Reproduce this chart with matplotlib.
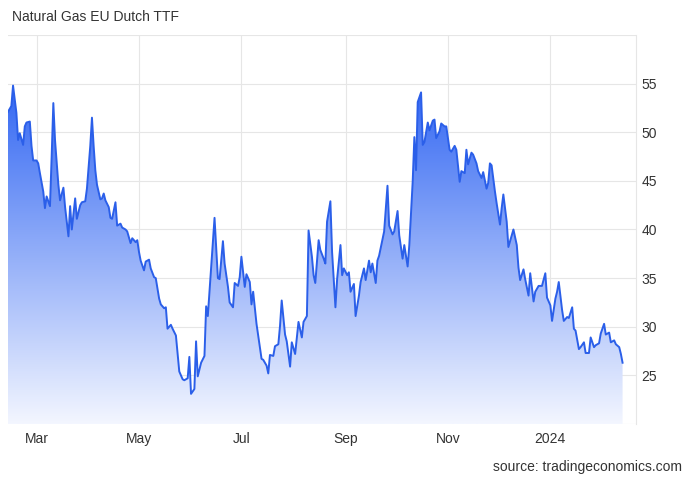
import numpy as np
import pandas as pd
import matplotlib
matplotlib.use('Agg')
import matplotlib.pyplot as plt
import matplotlib.dates as mdates
from matplotlib.colors import LinearSegmentedColormap

plt.rcParams['font.family'] = ['Liberation Sans', 'DejaVu Sans']

# TTF price, EUR/MWh
dates = [
    '2023-02-12', '2023-02-14', '2023-02-15', '2023-02-17', '2023-02-18', '2023-02-19', '2023-02-21',
    '2023-02-22', '2023-02-23', '2023-02-25', '2023-02-26', '2023-02-27', '2023-03-01', '2023-03-02',
    '2023-03-03', '2023-03-05', '2023-03-06', '2023-03-07', '2023-03-09', '2023-03-10', '2023-03-11',
    '2023-03-12', '2023-03-14', '2023-03-15', '2023-03-17', '2023-03-18', '2023-03-20', '2023-03-21',
    '2023-03-22', '2023-03-24', '2023-03-25', '2023-03-27', '2023-03-28', '2023-03-30', '2023-03-31',
    '2023-04-02', '2023-04-03', '2023-04-04', '2023-04-05', '2023-04-06', '2023-04-08', '2023-04-09',
    '2023-04-10', '2023-04-11', '2023-04-13', '2023-04-14', '2023-04-15', '2023-04-17', '2023-04-18',
    '2023-04-20', '2023-04-21', '2023-04-23', '2023-04-24', '2023-04-26', '2023-04-27', '2023-04-29',
    '2023-04-30', '2023-05-01', '2023-05-02', '2023-05-04', '2023-05-05', '2023-05-07', '2023-05-08',
    '2023-05-10', '2023-05-11', '2023-05-13', '2023-05-14', '2023-05-16', '2023-05-17', '2023-05-18',
    '2023-05-20', '2023-05-21', '2023-05-23', '2023-05-24', '2023-05-25', '2023-05-27', '2023-05-28',
    '2023-05-30', '2023-05-31', '2023-06-01', '2023-06-03', '2023-06-04', '2023-06-05', '2023-06-07',
    '2023-06-09', '2023-06-10', '2023-06-11', '2023-06-13', '2023-06-14', '2023-06-15', '2023-06-17',
    '2023-06-18', '2023-06-20', '2023-06-21', '2023-06-23', '2023-06-24', '2023-06-26', '2023-06-27',
    '2023-06-29', '2023-06-30', '2023-07-01', '2023-07-03', '2023-07-04', '2023-07-06', '2023-07-07',
    '2023-07-08', '2023-07-10', '2023-07-11', '2023-07-13', '2023-07-14', '2023-07-16', '2023-07-17',
    '2023-07-18', '2023-07-20', '2023-07-21', '2023-07-23', '2023-07-24', '2023-07-25', '2023-07-27',
    '2023-07-28', '2023-07-30', '2023-07-31', '2023-08-02', '2023-08-03', '2023-08-04', '2023-08-06',
    '2023-08-07', '2023-08-09', '2023-08-10', '2023-08-12', '2023-08-13', '2023-08-14', '2023-08-16',
    '2023-08-17', '2023-08-19', '2023-08-20', '2023-08-21', '2023-08-23', '2023-08-24', '2023-08-26',
    '2023-08-27', '2023-08-29', '2023-08-30', '2023-08-31', '2023-09-02', '2023-09-03', '2023-09-04',
    '2023-09-06', '2023-09-07', '2023-09-09', '2023-09-10', '2023-09-12', '2023-09-13', '2023-09-15',
    '2023-09-16', '2023-09-17', '2023-09-19', '2023-09-20', '2023-09-21', '2023-09-23', '2023-09-24',
    '2023-09-26', '2023-09-27', '2023-09-29', '2023-09-30', '2023-10-02', '2023-10-03', '2023-10-05',
    '2023-10-06', '2023-10-08', '2023-10-09', '2023-10-11', '2023-10-12', '2023-10-13', '2023-10-14',
    '2023-10-16', '2023-10-17', '2023-10-18', '2023-10-20', '2023-10-21', '2023-10-23', '2023-10-24',
    '2023-10-25', '2023-10-27', '2023-10-28', '2023-10-30', '2023-10-31', '2023-11-02', '2023-11-03',
    '2023-11-05', '2023-11-06', '2023-11-08', '2023-11-09', '2023-11-11', '2023-11-12', '2023-11-13',
    '2023-11-15', '2023-11-16', '2023-11-18', '2023-11-19', '2023-11-21', '2023-11-22', '2023-11-24',
    '2023-11-25', '2023-11-26', '2023-11-27', '2023-11-29', '2023-11-30', '2023-12-02', '2023-12-03',
    '2023-12-04', '2023-12-06', '2023-12-07', '2023-12-09', '2023-12-10', '2023-12-12', '2023-12-13',
    '2023-12-14', '2023-12-16', '2023-12-17', '2023-12-19', '2023-12-20', '2023-12-22', '2023-12-23',
    '2023-12-25', '2023-12-26', '2023-12-27', '2023-12-29', '2023-12-30', '2024-01-01', '2024-01-02',
    '2024-01-04', '2024-01-05', '2024-01-06', '2024-01-08', '2024-01-09', '2024-01-11', '2024-01-12',
    '2024-01-14', '2024-01-15', '2024-01-16', '2024-01-18', '2024-01-19', '2024-01-21', '2024-01-22',
    '2024-01-24', '2024-01-25', '2024-01-27', '2024-01-28', '2024-01-30', '2024-01-31', '2024-02-02',
    '2024-02-03', '2024-02-05', '2024-02-06', '2024-02-08', '2024-02-09', '2024-02-11', '2024-02-12',
    '2024-02-13',
]
prices = [
    52.1, 52.7, 54.8, 52.0, 49.2, 49.9, 48.7,
    50.6, 51.0, 51.1, 48.6, 47.1, 47.1, 46.8,
    45.8, 43.9, 42.2, 43.4, 42.4, 47.5, 53.0,
    49.2, 44.6, 43.0, 44.3, 42.3, 39.3, 42.4,
    40.0, 43.2, 41.1, 42.5, 42.8, 42.9, 44.2,
    48.6, 51.5, 48.6, 46.1, 44.6, 43.1, 43.2,
    43.7, 43.0, 42.3, 41.2, 41.1, 42.8, 40.4,
    40.6, 40.2, 40.0, 39.8, 38.6, 39.1, 38.7,
    38.9, 37.7, 36.8, 35.8, 36.7, 36.9, 36.0,
    35.1, 35.0, 32.9, 32.3, 31.9, 32.0, 29.8,
    30.2, 29.8, 29.1, 27.3, 25.4, 24.6, 24.5,
    24.7, 26.9, 23.1, 23.6, 28.5, 24.9, 26.3,
    27.0, 32.1, 31.1, 36.1, 38.7, 41.2, 35.0,
    34.9, 38.8, 36.5, 34.1, 32.5, 32.0, 34.5,
    34.2, 35.1, 37.2, 34.1, 35.4, 34.6, 32.3,
    33.6, 30.3, 29.1, 26.7, 26.6, 26.0, 25.2,
    27.1, 27.0, 28.0, 28.2, 30.1, 32.7, 29.2,
    28.5, 25.9, 28.4, 27.2, 28.9, 30.5, 28.9,
    30.5, 31.1, 39.9, 37.2, 35.3, 34.5, 38.9,
    37.9, 37.0, 36.5, 40.8, 42.9, 37.7, 32.0,
    34.9, 38.4, 35.3, 36.0, 35.3, 35.6, 33.6,
    34.4, 31.1, 33.2, 34.6, 36.0, 34.8, 36.8,
    35.6, 36.5, 34.5, 36.8, 37.3, 39.0, 39.8,
    44.5, 40.4, 39.5, 39.8, 41.9, 39.4, 37.0,
    38.4, 36.2, 38.4, 44.9, 49.5, 46.1, 53.1,
    54.1, 48.7, 49.0, 51.0, 50.2, 51.2, 51.3,
    49.4, 50.1, 50.9, 50.6, 50.6, 48.2, 48.0,
    48.6, 48.2, 44.9, 46.0, 45.8, 48.2, 46.7,
    47.9, 47.7, 46.8, 46.0, 45.3, 45.9, 44.2,
    44.8, 46.8, 46.6, 43.9, 42.7, 40.5, 42.2,
    43.6, 40.8, 38.2, 39.4, 40.0, 38.4, 36.1,
    34.8, 35.9, 34.9, 33.2, 35.5, 32.6, 33.6,
    34.2, 34.2, 34.2, 35.5, 33.0, 32.2, 30.6,
    32.9, 33.6, 34.6, 31.7, 30.6, 31.0, 30.9,
    32.0, 29.8, 29.6, 27.7, 27.9, 28.4, 27.3,
    27.3, 28.9, 27.9, 28.1, 28.3, 29.3, 30.3,
    29.2, 29.4, 28.4, 28.6, 28.2, 27.9, 27.2,
    26.3,
]

tick_dates = ['2023-03-01', '2023-05-01', '2023-07-01', '2023-09-01', '2023-11-01', '2024-01-01']
tick_labels = ['Mar', 'May', 'Jul', 'Sep', 'Nov', '2024']
y_ticks = [25, 30, 35, 40, 45, 50, 55]

x = mdates.date2num(pd.to_datetime(dates))
y = np.array(prices)

fig = plt.figure(figsize=(6.92, 4.8), dpi=100)
ax = fig.add_axes([8 / 692, 1 - 424 / 480, (636 - 8) / 692, (424 - 35) / 480])

ymin, ymax = 20, 60
x_left = mdates.date2num(pd.Timestamp('2023-02-12'))
x_right = mdates.date2num(pd.Timestamp('2024-02-21'))

# gradient fill under the line
fill = ax.fill_between(x, y, ymin, color='none', lw=0)
cmap = LinearSegmentedColormap.from_list('ttf', ['#f3f6ff', '#2c62f2'])
grad = np.linspace(0, 1, 256).reshape(-1, 1)
im = ax.imshow(grad, cmap=cmap, aspect='auto', origin='lower',
               extent=[x[0], x[-1], ymin, 56], zorder=1)
im.set_clip_path(fill.get_paths()[0], transform=ax.transData)

ax.plot(x, y, color='#2b5fe9', lw=1.4, zorder=3)

ax.set_xlim(x_left, x_right)
ax.set_ylim(ymin, ymax)

# grid
for v in range(ymin, ymax + 1, 5):
    ax.axhline(v, color='#e6e6e6', lw=0.8, zorder=0)
for d in tick_dates:
    ax.axvline(mdates.date2num(pd.Timestamp(d)), color='#e6e6e6', lw=0.8, zorder=0)

for s in ['left', 'top', 'bottom']:
    ax.spines[s].set_visible(False)
ax.spines['right'].set_color('#e6e6e6')
ax.spines['right'].set_linewidth(0.8)

ax.set_xticks(mdates.date2num(pd.to_datetime(tick_dates)))
ax.set_xticklabels(tick_labels)
ax.set_yticks(y_ticks)
ax.yaxis.tick_right()
ax.tick_params(axis='both', length=0, labelsize=10, labelcolor='#333333')
ax.tick_params(axis='x', pad=6)
ax.tick_params(axis='y', pad=4)

fig.text(12 / 692, 1 - 17 / 480, 'Natural Gas EU Dutch TTF', fontsize=10,
         color='#333333', va='center', ha='left')
fig.text(682 / 692, 1 - 467 / 480, 'source: tradingeconomics.com', fontsize=10,
         color='#333333', va='center', ha='right')

fig.savefig('out.png', dpi=100)
